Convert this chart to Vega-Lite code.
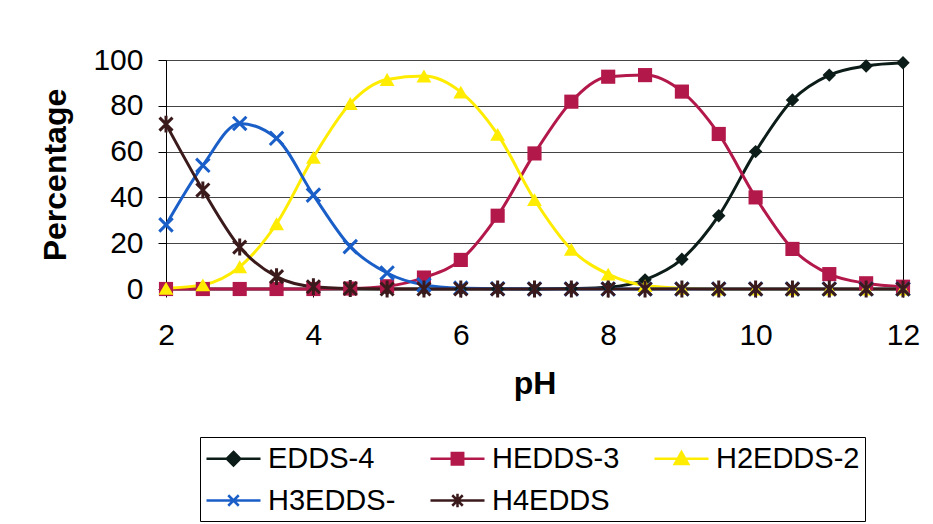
{
  "$schema": "https://vega.github.io/schema/vega-lite/v6.json",
  "autosize": {"type": "none"},
  "width": 737,
  "height": 229,
  "padding": {"left": 166, "top": 60, "right": 30, "bottom": 235},
  "background": "white",
  "config": {
    "font": "Liberation Sans",
    "view": {"stroke": "black", "strokeWidth": 1},
    "axis": {
      "labelFont": "Liberation Sans",
      "labelFontSize": 30,
      "labelColor": "black",
      "titleFont": "Liberation Sans",
      "titleFontSize": 32,
      "titleFontWeight": "bold",
      "titleColor": "black",
      "domainColor": "black",
      "tickColor": "black",
      "tickSize": 8,
      "gridColor": "#444",
      "gridWidth": 1,
      "gridOpacity": 1
    }
  },
  "data": {
    "values": [
      {"pH": 2, "species": "EDDS-4", "pct": 0},
      {"pH": 2.5, "species": "EDDS-4", "pct": 0},
      {"pH": 3, "species": "EDDS-4", "pct": 0},
      {"pH": 3.5, "species": "EDDS-4", "pct": 0},
      {"pH": 4, "species": "EDDS-4", "pct": 0},
      {"pH": 4.5, "species": "EDDS-4", "pct": 0},
      {"pH": 5, "species": "EDDS-4", "pct": 0},
      {"pH": 5.5, "species": "EDDS-4", "pct": 0},
      {"pH": 6, "species": "EDDS-4", "pct": 0},
      {"pH": 6.5, "species": "EDDS-4", "pct": 0},
      {"pH": 7, "species": "EDDS-4", "pct": 0},
      {"pH": 7.5, "species": "EDDS-4", "pct": 0.2},
      {"pH": 8, "species": "EDDS-4", "pct": 0.8},
      {"pH": 8.5, "species": "EDDS-4", "pct": 4},
      {"pH": 9, "species": "EDDS-4", "pct": 13},
      {"pH": 9.5, "species": "EDDS-4", "pct": 32},
      {"pH": 10, "species": "EDDS-4", "pct": 60},
      {"pH": 10.5, "species": "EDDS-4", "pct": 82.5},
      {"pH": 11, "species": "EDDS-4", "pct": 93.4},
      {"pH": 11.5, "species": "EDDS-4", "pct": 97.4},
      {"pH": 12, "species": "EDDS-4", "pct": 98.8},
      {"pH": 2, "species": "HEDDS-3", "pct": 0},
      {"pH": 2.5, "species": "HEDDS-3", "pct": 0},
      {"pH": 3, "species": "HEDDS-3", "pct": 0},
      {"pH": 3.5, "species": "HEDDS-3", "pct": 0},
      {"pH": 4, "species": "HEDDS-3", "pct": 0},
      {"pH": 4.5, "species": "HEDDS-3", "pct": 0.2},
      {"pH": 5, "species": "HEDDS-3", "pct": 1.2},
      {"pH": 5.5, "species": "HEDDS-3", "pct": 5},
      {"pH": 6, "species": "HEDDS-3", "pct": 12.7},
      {"pH": 6.5, "species": "HEDDS-3", "pct": 32},
      {"pH": 7, "species": "HEDDS-3", "pct": 59.2},
      {"pH": 7.5, "species": "HEDDS-3", "pct": 81.8},
      {"pH": 8, "species": "HEDDS-3", "pct": 92.7},
      {"pH": 8.5, "species": "HEDDS-3", "pct": 93.4},
      {"pH": 9, "species": "HEDDS-3", "pct": 86.2},
      {"pH": 9.5, "species": "HEDDS-3", "pct": 67.7},
      {"pH": 10, "species": "HEDDS-3", "pct": 40},
      {"pH": 10.5, "species": "HEDDS-3", "pct": 17.5},
      {"pH": 11, "species": "HEDDS-3", "pct": 6.5},
      {"pH": 11.5, "species": "HEDDS-3", "pct": 2.5},
      {"pH": 12, "species": "HEDDS-3", "pct": 1},
      {"pH": 2, "species": "H2EDDS-2", "pct": 0.3},
      {"pH": 2.5, "species": "H2EDDS-2", "pct": 1.8},
      {"pH": 3, "species": "H2EDDS-2", "pct": 9.7},
      {"pH": 3.5, "species": "H2EDDS-2", "pct": 28.5},
      {"pH": 4, "species": "H2EDDS-2", "pct": 57.5},
      {"pH": 4.5, "species": "H2EDDS-2", "pct": 81},
      {"pH": 5, "species": "H2EDDS-2", "pct": 91.5},
      {"pH": 5.5, "species": "H2EDDS-2", "pct": 93},
      {"pH": 6, "species": "H2EDDS-2", "pct": 86},
      {"pH": 6.5, "species": "H2EDDS-2", "pct": 67.5},
      {"pH": 7, "species": "H2EDDS-2", "pct": 39},
      {"pH": 7.5, "species": "H2EDDS-2", "pct": 17.3},
      {"pH": 8, "species": "H2EDDS-2", "pct": 6.5},
      {"pH": 8.5, "species": "H2EDDS-2", "pct": 1.5},
      {"pH": 9, "species": "H2EDDS-2", "pct": 0.3},
      {"pH": 9.5, "species": "H2EDDS-2", "pct": 0},
      {"pH": 10, "species": "H2EDDS-2", "pct": 0},
      {"pH": 10.5, "species": "H2EDDS-2", "pct": 0},
      {"pH": 11, "species": "H2EDDS-2", "pct": 0},
      {"pH": 11.5, "species": "H2EDDS-2", "pct": 0},
      {"pH": 12, "species": "H2EDDS-2", "pct": 0},
      {"pH": 2, "species": "H3EDDS-", "pct": 28},
      {"pH": 2.5, "species": "H3EDDS-", "pct": 54},
      {"pH": 3, "species": "H3EDDS-", "pct": 72.3},
      {"pH": 3.5, "species": "H3EDDS-", "pct": 65.8},
      {"pH": 4, "species": "H3EDDS-", "pct": 41},
      {"pH": 4.5, "species": "H3EDDS-", "pct": 18.5},
      {"pH": 5, "species": "H3EDDS-", "pct": 7},
      {"pH": 5.5, "species": "H3EDDS-", "pct": 1.8},
      {"pH": 6, "species": "H3EDDS-", "pct": 0.4},
      {"pH": 6.5, "species": "H3EDDS-", "pct": 0.1},
      {"pH": 7, "species": "H3EDDS-", "pct": 0},
      {"pH": 7.5, "species": "H3EDDS-", "pct": 0},
      {"pH": 8, "species": "H3EDDS-", "pct": 0},
      {"pH": 8.5, "species": "H3EDDS-", "pct": 0},
      {"pH": 9, "species": "H3EDDS-", "pct": 0},
      {"pH": 9.5, "species": "H3EDDS-", "pct": 0},
      {"pH": 10, "species": "H3EDDS-", "pct": 0},
      {"pH": 10.5, "species": "H3EDDS-", "pct": 0},
      {"pH": 11, "species": "H3EDDS-", "pct": 0},
      {"pH": 11.5, "species": "H3EDDS-", "pct": 0},
      {"pH": 12, "species": "H3EDDS-", "pct": 0},
      {"pH": 2, "species": "H4EDDS", "pct": 72},
      {"pH": 2.5, "species": "H4EDDS", "pct": 43.2},
      {"pH": 3, "species": "H4EDDS", "pct": 18.3},
      {"pH": 3.5, "species": "H4EDDS", "pct": 5.4},
      {"pH": 4, "species": "H4EDDS", "pct": 1},
      {"pH": 4.5, "species": "H4EDDS", "pct": 0.2},
      {"pH": 5, "species": "H4EDDS", "pct": 0},
      {"pH": 5.5, "species": "H4EDDS", "pct": 0},
      {"pH": 6, "species": "H4EDDS", "pct": 0},
      {"pH": 6.5, "species": "H4EDDS", "pct": 0},
      {"pH": 7, "species": "H4EDDS", "pct": 0},
      {"pH": 7.5, "species": "H4EDDS", "pct": 0},
      {"pH": 8, "species": "H4EDDS", "pct": 0},
      {"pH": 8.5, "species": "H4EDDS", "pct": 0},
      {"pH": 9, "species": "H4EDDS", "pct": 0},
      {"pH": 9.5, "species": "H4EDDS", "pct": 0},
      {"pH": 10, "species": "H4EDDS", "pct": 0},
      {"pH": 10.5, "species": "H4EDDS", "pct": 0},
      {"pH": 11, "species": "H4EDDS", "pct": 0},
      {"pH": 11.5, "species": "H4EDDS", "pct": 0},
      {"pH": 12, "species": "H4EDDS", "pct": 0}
    ]
  },
  "encoding": {
    "x": {
      "field": "pH", "type": "quantitative", "title": "pH",
      "scale": {"domain": [2, 12], "nice": false, "zero": false},
      "axis": {"values": [2, 4, 6, 8, 10, 12], "grid": false, "labelPadding": 23, "titlePadding": 18, "labelFlush": false}
    },
    "y": {
      "field": "pct", "type": "quantitative", "title": "Percentage",
      "scale": {"domain": [0, 100], "nice": false},
      "axis": {"values": [0, 20, 40, 60, 80, 100], "grid": true, "labelPadding": 15, "titlePadding": 20}
    },
    "color": {
      "field": "species", "type": "nominal",
      "scale": {
        "domain": ["EDDS-4", "HEDDS-3", "H2EDDS-2", "H3EDDS-", "H4EDDS"],
        "range": ["#0c1c18", "#b3184b", "#ffec00", "#1a5ec8", "#3b1a1c"]
      },
      "legend": {
        "title": null,
        "orient": "none",
        "legendX": 34,
        "legendY": 377,
        "direction": "horizontal",
        "columns": 3,
        "gridAlign": "all",
        "padding": 5,
        "strokeColor": "black",
        "fillColor": "white",
        "columnPadding": 13,
        "rowPadding": 10,
        "labelFont": "Liberation Sans",
        "labelFontSize": 29,
        "labelColor": "black",
        "labelOffset": 30,
        "symbolSize": 900,
        "symbolType": "M-1,0H2.6",
        "symbolStrokeWidth": 2.5,
        "encode": {
          "symbols": {
            "update": {
              "shape": {"signal": "datum.value === 'EDDS-4' ? 'M-1,0H2.6M0.8,-0.45L1.25,0L0.8,0.45L0.35,0Z' : datum.value === 'HEDDS-3' ? 'M-1,0H2.6M0.42,-0.38H1.18V0.38H0.42Z' : datum.value === 'H2EDDS-2' ? 'M-1,0H2.6M0.8,-0.45L1.25,0.35H0.35Z' : datum.value === 'H3EDDS-' ? 'M-1,0H2.6M0.45,-0.35L1.15,0.35M0.45,0.35L1.15,-0.35' : 'M-1,0H2.6M0.45,-0.35L1.15,0.35M0.45,0.35L1.15,-0.35M0.8,-0.45V0.45'"},
              "fill": {"scale": "color", "field": "value"},
              "stroke": {"scale": "color", "field": "value"},
              "strokeWidth": {"value": 2.5},
              "opacity": {"value": 1}
            }
          }
        }
      }
    }
  },
  "layer": [
    {
      "mark": {"type": "line", "interpolate": "monotone", "strokeWidth": 3}
    },
    {
      "transform": [{"filter": "datum.species === 'EDDS-4'"}],
      "mark": {"type": "point", "shape": "diamond", "filled": true, "opacity": 1, "size": 180}
    },
    {
      "transform": [{"filter": "datum.species === 'HEDDS-3'"}],
      "mark": {"type": "point", "shape": "square", "filled": true, "opacity": 1, "size": 200}
    },
    {
      "transform": [{"filter": "datum.species === 'H2EDDS-2'"}],
      "mark": {"type": "point", "shape": "triangle-up", "filled": true, "opacity": 1, "size": 220}
    },
    {
      "transform": [{"filter": "datum.species === 'H3EDDS-'"}],
      "mark": {"type": "point", "shape": "M-1,-1L1,1M-1,1L1,-1", "filled": false, "opacity": 1, "strokeWidth": 3, "size": 180}
    },
    {
      "transform": [{"filter": "datum.species === 'H4EDDS'"}],
      "mark": {"type": "point", "shape": "M-1,-1L1,1M-1,1L1,-1M0,-1.3V1.3", "filled": false, "opacity": 1, "strokeWidth": 3, "size": 170}
    }
  ]
}
